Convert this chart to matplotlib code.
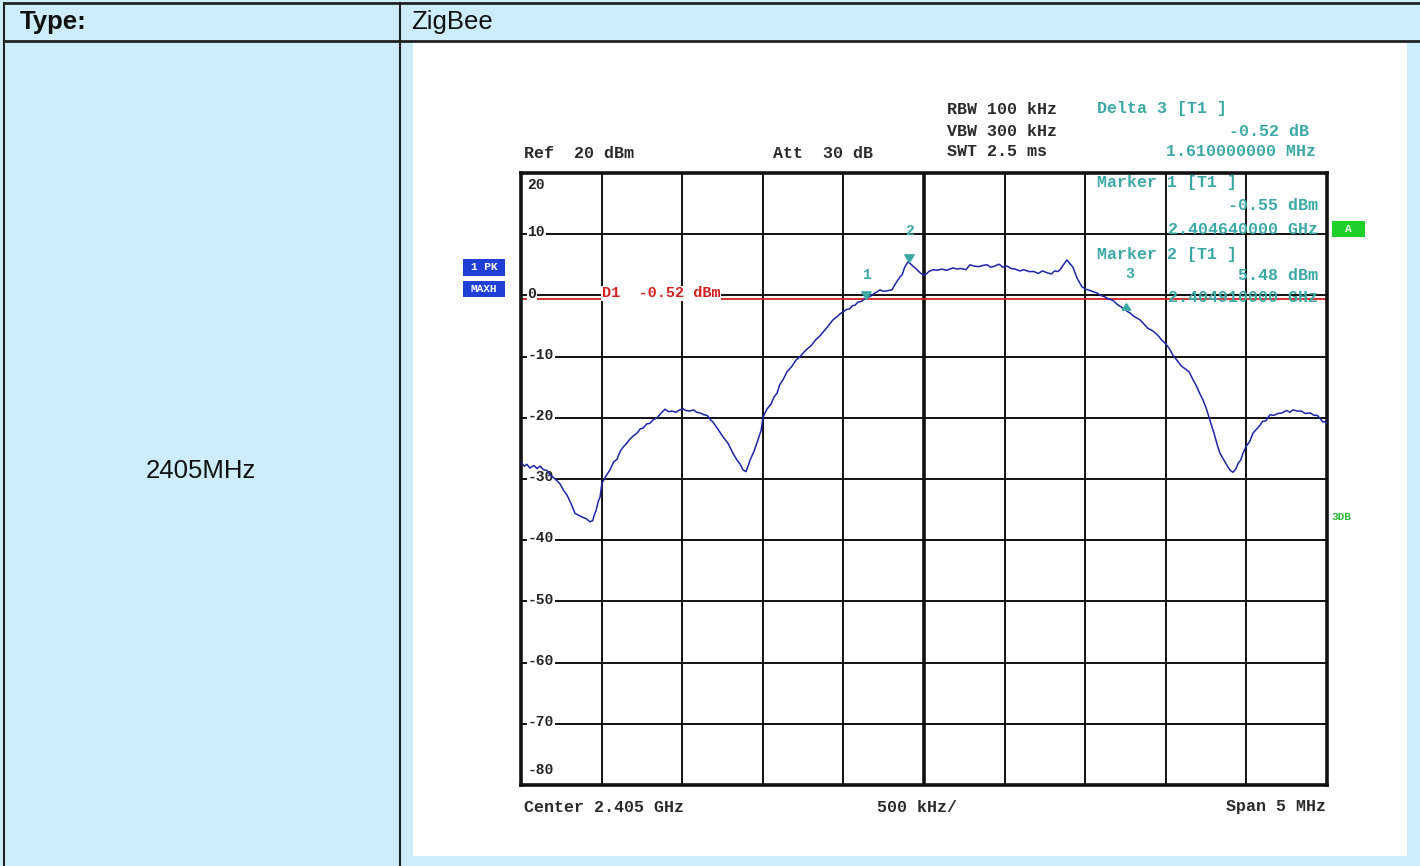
import matplotlib
matplotlib.use("Agg")
import matplotlib.pyplot as plt
from matplotlib.lines import Line2D
from matplotlib.patches import Rectangle
from matplotlib.markers import MarkerStyle
from matplotlib.path import Path

# ---------------- data ----------------
center_mhz = 2405.0
span_mhz = 5.0
ref_level = 20
y_bottom = -80

trace_offset_mhz = [
    -2.500, -2.480, -2.463, -2.445, -2.420, -2.400, -2.382, -2.360, -2.339, -2.320,
    -2.302, -2.280, -2.258, -2.235, -2.215, -2.190, -2.165, -2.145, -2.122, -2.095,
    -2.072, -2.055, -2.047, -2.035, -2.020, -2.010, -1.998, -1.975, -1.948, -1.925,
    -1.905, -1.885, -1.867, -1.845, -1.825, -1.805, -1.780, -1.760, -1.743, -1.720,
    -1.700, -1.680, -1.656, -1.630, -1.607, -1.585, -1.563, -1.540, -1.514, -1.495,
    -1.480, -1.452, -1.430, -1.410, -1.390, -1.365, -1.346, -1.325, -1.309, -1.280,
    -1.247, -1.215, -1.185, -1.160, -1.140, -1.123, -1.104, -1.090, -1.079, -1.055,
    -1.030, -1.010, -0.999, -0.975, -0.950, -0.930, -0.912, -0.895, -0.875, -0.850,
    -0.820, -0.795, -0.769, -0.735, -0.700, -0.670, -0.645, -0.620, -0.600, -0.580,
    -0.565, -0.540, -0.520, -0.503, -0.480, -0.460, -0.445, -0.428, -0.410, -0.390,
    -0.370, -0.354, -0.330, -0.310, -0.290, -0.273, -0.255, -0.240, -0.220, -0.199,
    -0.175, -0.149, -0.135, -0.120, -0.099, -0.085, -0.070, -0.055, -0.043, -0.020,
    0.006, 0.030, 0.056, 0.080, 0.110, 0.140, 0.180, 0.205, 0.230, 0.260,
    0.285, 0.310, 0.340, 0.365, 0.391, 0.415, 0.440, 0.465, 0.490, 0.515,
    0.540, 0.565, 0.596, 0.620, 0.650, 0.680, 0.710, 0.735, 0.763, 0.790,
    0.810, 0.830, 0.844, 0.865, 0.887, 0.905, 0.924, 0.950, 0.980, 1.005,
    1.030, 1.050, 1.073, 1.095, 1.120, 1.145, 1.172, 1.200, 1.235, 1.260,
    1.280, 1.300, 1.321, 1.340, 1.358, 1.390, 1.420, 1.450, 1.475, 1.495,
    1.520, 1.545, 1.569, 1.595, 1.620, 1.645, 1.669, 1.690, 1.710, 1.731,
    1.750, 1.774, 1.800, 1.820, 1.836, 1.860, 1.880, 1.900, 1.917, 1.935,
    1.950, 1.965, 1.979, 2.000, 2.020, 2.041, 2.065, 2.085, 2.100, 2.120,
    2.146, 2.170, 2.195, 2.220, 2.250, 2.270, 2.289, 2.315, 2.340, 2.365,
    2.395, 2.420, 2.440, 2.460, 2.476, 2.490, 2.500,
]
trace_level_dbm = [
    -27.3, -27.9, -27.6, -28.2, -27.8, -28.3, -27.9, -28.5, -28.6, -29.3,
    -29.7, -30.2, -30.8, -31.9, -32.6, -34.0, -35.6, -35.9, -36.2, -36.5,
    -37.0, -36.8, -36.0, -35.2, -33.6, -33.0, -30.7, -29.6, -28.5, -27.2,
    -26.8, -25.5, -24.8, -24.2, -23.5, -23.0, -22.5, -21.8, -21.7, -21.0,
    -20.9, -20.3, -20.0, -19.2, -18.6, -19.0, -18.9, -19.1, -18.7, -18.5,
    -18.8, -18.9, -18.7, -19.1, -19.2, -19.5, -19.6, -20.3, -20.7, -21.8,
    -23.1, -24.2, -25.8, -26.9, -27.6, -28.5, -28.8, -27.8, -26.9, -25.5,
    -23.6, -22.0, -19.9, -18.6, -17.8, -16.6, -16.0, -14.6, -13.8, -12.5,
    -11.6, -10.6, -10.0, -9.0, -8.2, -7.2, -6.6, -5.8, -5.2, -4.5,
    -4.0, -3.5, -3.0, -2.7, -2.3, -2.2, -1.7, -1.6, -1.1, -1.0,
    -0.6, -0.4, -0.1, 0.3, 0.6, 0.9, 0.7, 0.7, 0.8, 0.9,
    2.0, 3.0, 3.4, 4.6, 5.5, 5.2, 4.8, 4.5, 4.2, 3.6,
    3.3, 3.9, 4.2, 4.1, 4.3, 4.1, 4.5, 4.3, 4.4, 4.2,
    5.0, 4.8, 4.7, 4.9, 5.0, 4.6, 4.8, 5.1, 4.6, 4.8,
    4.4, 4.3, 4.0, 4.2, 3.9, 3.9, 3.6, 4.0, 3.7, 3.5,
    4.0, 3.9, 4.2, 5.0, 5.8, 5.2, 4.6, 2.8, 1.4, 1.0,
    0.8, 0.6, 0.4, 0.0, -0.2, -0.6, -0.8, -1.5, -2.1, -2.6,
    -2.9, -3.4, -3.7, -4.0, -4.5, -5.4, -5.8, -6.5, -7.3, -7.8,
    -8.6, -9.8, -10.6, -11.5, -12.0, -12.5, -13.8, -14.8, -16.0, -17.1,
    -18.4, -20.4, -22.6, -24.5, -25.8, -26.9, -27.8, -28.6, -28.9, -28.3,
    -27.4, -26.9, -25.8, -24.6, -23.9, -22.5, -21.8, -21.2, -20.6, -20.5,
    -19.5, -19.6, -19.3, -19.2, -18.8, -19.1, -18.7, -18.9, -18.9, -19.3,
    -19.2, -19.6, -19.6, -20.2, -20.7, -20.6, -20.9,
]

marker_labels = ["1", "2", "3"]
marker_freq_mhz = [2404.64, 2404.91, 2406.25]
marker_level_dbm = [-0.55, 5.48, -1.07]
display_line_dbm = -0.52

y_ticks = [20, 10, 0, -10, -20, -30, -40, -50, -60, -70, -80]

# ---------------- figure ----------------
W, H = 1420, 866
BG = "#cdedfa"
TEAL = "#3aa9a6"
BLUE_TRACE = "#1c24a8"
RED = "#d42020"
MONO = ["Liberation Mono", "DejaVu Sans Mono"]
SANS = ["Liberation Sans", "DejaVu Sans"]

fig = plt.figure(figsize=(W / 100, H / 100), dpi=100, facecolor=BG)


def fx(x):
    return x / W


def fy(y):
    return 1 - y / H


def fline(x0, y0, x1, y1, lw=1.5, color="#222222"):
    fig.add_artist(Line2D([fx(x0), fx(x1)], [fy(y0), fy(y1)], transform=fig.transFigure,
                          color=color, lw=lw))


# white panel
fig.add_artist(Rectangle((fx(413), fy(856)), fx(1407) - fx(413), fy(42) - fy(856),
                         transform=fig.transFigure, facecolor="white", edgecolor="none", zorder=0))

# table lines
fline(4, 3, 1420, 3, lw=2)
fline(4, 41, 1420, 41, lw=2)
fline(4, 3, 4, 866, lw=1.5)
fline(400, 3, 400, 866, lw=1.5)

fig.text(fx(20), fy(22), "Type:", fontsize=18.5, fontweight="bold", family=SANS,
         ha="left", va="center", color="#111111")
fig.text(fx(411), fy(22), "ZigBee", fontsize=18.5, family=SANS,
         ha="left", va="center", color="#111111")
fig.text(fx(201), fy(471), "2405MHz", fontsize=18.5, family=SANS,
         ha="center", va="center", color="#111111")

# ---------------- spectrum axes ----------------
ax_l, ax_r, ax_t, ax_b = 521, 1327, 173, 785
ax = fig.add_axes([fx(ax_l), fy(ax_b), (ax_r - ax_l) / W, (ax_b - ax_t) / H])
ax.set_facecolor("white")
f0 = center_mhz - span_mhz / 2
f1 = center_mhz + span_mhz / 2
ax.set_xlim(f0, f1)
ax.set_ylim(y_bottom, ref_level)
ax.set_xticks([])
ax.set_yticks([])
for s in ax.spines.values():
    s.set_linewidth(2.6)
    s.set_color("#111111")

# grid
for i in range(1, 10):
    f = f0 + i * span_mhz / 10
    ax.axvline(f, color="#111111", lw=2.6 if i == 5 else 1.4, zorder=1)
for v in y_ticks[1:-1]:
    ax.axhline(v, color="#111111", lw=1.4, zorder=1)

# y labels
ytr = ax.get_yaxis_transform()
for v in y_ticks:
    if v == ref_level:
        yy = v - 2.0
    elif v == y_bottom:
        yy = v + 2.4
    else:
        yy = v + 0.3
    ax.text(0.008, yy, str(v), transform=ytr,
            fontsize=10.5, fontweight="bold", family=MONO, color="#222222",
            ha="left", va="center", zorder=3,
            bbox=dict(facecolor="white", edgecolor="none", pad=0.6))

# display line
ax.axhline(display_line_dbm, color=RED, lw=1.3, zorder=2)
ax.text(f0 + 0.5, display_line_dbm + 0.9, "D1  -0.52 dBm", fontsize=11, fontweight="bold",
        family=MONO, color=RED, ha="left", va="center", zorder=3,
        bbox=dict(facecolor="white", edgecolor="none", pad=0.3))

# trace
trace_f = [center_mhz + o for o in trace_offset_mhz]
ax.plot(trace_f, trace_level_dbm, color=BLUE_TRACE, lw=1.1, zorder=4)

# markers (tip at the data point)
down_tri = MarkerStyle(Path([(0, 0), (-0.55, 0.9), (0.55, 0.9), (0, 0)]))
up_tri = MarkerStyle(Path([(0, -0.15), (-0.55, -1.0), (0.55, -1.0), (0, -0.15)]))
for lab, f, l in zip(marker_labels, marker_freq_mhz, marker_level_dbm):
    mk = up_tri if lab == "3" else down_tri
    ax.plot([f], [l], marker=mk, markersize=11, color=TEAL, markeredgecolor=TEAL,
            linestyle="none", zorder=5)
    off = {"1": (0, 17), "2": (0, 22), "3": (3, 20)}[lab]
    ax.annotate(lab, (f, l), xytext=off, textcoords="offset points", fontsize=10.5,
                fontweight="bold", family=MONO, color=TEAL, ha="center", va="center",
                zorder=6)

# header texts
hdr = dict(fontsize=12, fontweight="bold", family=MONO, va="center")
fig.text(fx(947), fy(109), "RBW 100 kHz", color="#2a2a2a", ha="left", **hdr)
fig.text(fx(947), fy(131), "VBW 300 kHz", color="#2a2a2a", ha="left", **hdr)
fig.text(fx(947), fy(152), "SWT 2.5 ms", color="#2a2a2a", ha="left", **hdr)
fig.text(fx(1097), fy(109), "Delta 3 [T1 ]", color=TEAL, ha="left", **hdr)
fig.text(fx(1309), fy(131), "-0.52 dB", color=TEAL, ha="right", **hdr)
fig.text(fx(1316), fy(152), "1.610000000 MHz", color=TEAL, ha="right", **hdr)
fig.text(fx(524), fy(153), "Ref  20 dBm", color="#2a2a2a", ha="left", **hdr)
fig.text(fx(773), fy(153), "Att  30 dB", color="#2a2a2a", ha="left", **hdr)

# marker readouts inside the grid
fig.text(fx(1097), fy(183), "Marker 1 [T1 ]", color=TEAL, ha="left", zorder=10, **hdr)
fig.text(fx(1318), fy(205), "-0.55 dBm", color=TEAL, ha="right", zorder=10, **hdr)
fig.text(fx(1318), fy(230), "2.404640000 GHz", color=TEAL, ha="right", zorder=10, **hdr)
fig.text(fx(1097), fy(254), "Marker 2 [T1 ]", color=TEAL, ha="left", zorder=10, **hdr)
fig.text(fx(1318), fy(275), "5.48 dBm", color=TEAL, ha="right", zorder=10, **hdr)
fig.text(fx(1318), fy(297), "2.404910000 GHz", color=TEAL, ha="right", zorder=10, **hdr)

# footer texts
fig.text(fx(524), fy(807), "Center 2.405 GHz", color="#2a2a2a", ha="left", **hdr)
fig.text(fx(877), fy(807), "500 kHz/", color="#2a2a2a", ha="left", **hdr)
fig.text(fx(1326), fy(807), "Span 5 MHz", color="#2a2a2a", ha="right", **hdr)

# side boxes
for (y0, y1, txt) in [(259, 276, "1 PK"), (281, 297, "MAXH")]:
    fig.add_artist(Rectangle((fx(463), fy(y1)), fx(505) - fx(463), fy(y0) - fy(y1),
                             transform=fig.transFigure, facecolor="#1f3fd6", edgecolor="none"))
    fig.text(fx(484), fy((y0 + y1) / 2), txt, fontsize=8, fontweight="bold", family=MONO,
             color="white", ha="center", va="center")

fig.add_artist(Rectangle((fx(1332), fy(237)), fx(1365) - fx(1332), fy(221) - fy(237),
                         transform=fig.transFigure, facecolor="#1fd02a", edgecolor="none"))
fig.text(fx(1348), fy(229), "A", fontsize=8, fontweight="bold", family=MONO,
         color="#e8ffe8", ha="center", va="center")
fig.text(fx(1331), fy(517), "3DB", fontsize=8, fontweight="bold", family=MONO,
         color="#2cbb3a", ha="left", va="center")

fig.savefig("out.png", dpi=100, facecolor=BG)
